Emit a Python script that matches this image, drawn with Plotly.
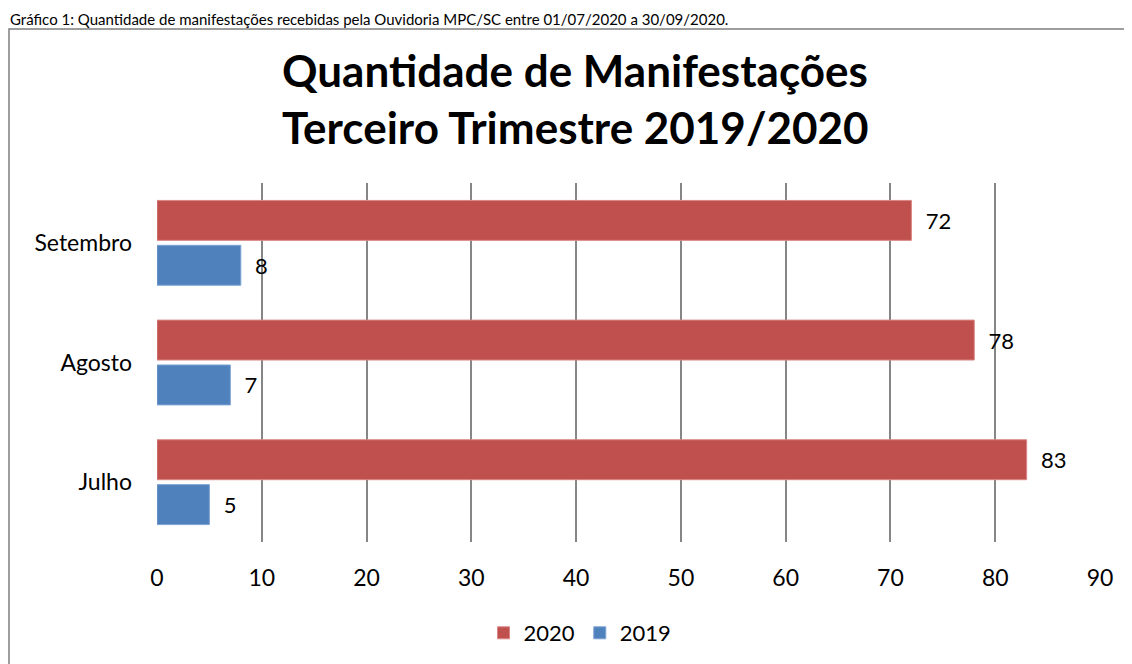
# Quantidade de manifestacoes - terceiro trimestre 2019/2020
import plotly.graph_objects as go

#%% data
meses = ['Julho', 'Agosto', 'Setembro']
v2019 = [5, 7, 8]
v2020 = [83, 78, 72]
x_ticks = [0, 10, 20, 30, 40, 50, 60, 70, 80, 90]

#%% layout numbers (px, in screen coords; page body adds 8px offset)
off = 8
W, H = 1132, 664
ml, mt = 157 - off, 183 - off
pw, ph = 943, 359
mr, mb = W - ml - pw, H - mt - ph

def px_x(x):
    return (x - off - ml) / pw

def px_y(y):
    return (mt + ph - (y - off)) / ph

font = 'Lato, Open Sans, sans-serif'

fig = go.Figure()
fig.add_trace(go.Bar(y=meses, x=v2019, name='2019', orientation='h',
                     marker=dict(color='#4F81BD', line=dict(color='#7FA3D3', width=1)),
                     text=v2019, texttemplate='  %{x}', textposition='outside', cliponaxis=False,
                     textfont=dict(size=22, color='black')))
fig.add_trace(go.Bar(y=meses, x=v2020, name='2020', orientation='h',
                     marker=dict(color='#C0504D', line=dict(color='#D98886', width=1)),
                     text=v2020, texttemplate='  %{x}', textposition='outside', cliponaxis=False,
                     textfont=dict(size=22, color='black')))

fig.update_layout(
    width=W, height=H,
    margin=dict(l=ml, r=mr, t=mt, b=mb),
    paper_bgcolor='white', plot_bgcolor='white',
    font=dict(family=font, size=23, color='black'),
    barmode='group', bargap=0.25, bargroupgap=0.11,
    showlegend=True,
    legend=dict(orientation='h', x=px_x(580), xanchor='center', y=px_y(633), yanchor='middle',
                traceorder='reversed', font=dict(size=22)),
    xaxis=dict(range=[0, 90], tickvals=x_ticks, showgrid=True, gridcolor='#868686', gridwidth=1.5,
               zeroline=False, showline=False, ticks='', ticklabelstandoff=20, automargin=False),
    yaxis=dict(showgrid=False, zeroline=False, showline=False, ticks='', ticklabelstandoff=24,
               automargin=False),
)

# figure caption (above the frame)
fig.add_annotation(text='Gráfico 1: Quantidade de manifestações recebidas pela Ouvidoria MPC/SC entre 01/07/2020 a 30/09/2020.',
                   xref='paper', yref='paper', x=px_x(off), y=px_y(off), xanchor='left', yanchor='top',
                   showarrow=False, font=dict(family='Lato, sans-serif', size=15))
# chart title
fig.add_annotation(text='<b>Quantidade de Manifestações</b>', xref='paper', yref='paper',
                   x=px_x(575), y=px_y(70), xanchor='center', yanchor='middle', showarrow=False,
                   font=dict(size=44))
fig.add_annotation(text='<b>Terceiro Trimestre 2019/2020</b>', xref='paper', yref='paper',
                   x=px_x(575), y=px_y(127), xanchor='center', yanchor='middle', showarrow=False,
                   font=dict(size=44))
# frame round the chart
fig.add_shape(type='rect', xref='paper', yref='paper', x0=px_x(9), x1=px_x(1145), y0=px_y(690), y1=px_y(29),
              line=dict(color='#7F7F7F', width=1.5))

fig.write_html("out.html")
